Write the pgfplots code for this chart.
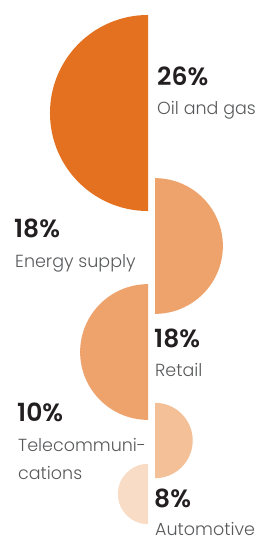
\documentclass[border=0pt]{standalone}
\usepackage{fontspec}
\setmainfont{Poppins}[UprightFont={* Light}, BoldFont={* SemiBold}]
\usepackage{pgfplots}
\pgfplotsset{compat=1.18}
\definecolor{c1}{HTML}{E4711F}
\definecolor{c2}{HTML}{EEA26C}
\definecolor{c3}{HTML}{F4C097}
\definecolor{c4}{HTML}{F9DCC5}
\definecolor{pctcol}{HTML}{231F20}
\definecolor{labcol}{HTML}{58595B}
\tikzset{
  pctnode/.style={font=\fontsize{25}{27}\selectfont\bfseries, text=pctcol, anchor=base west, inner sep=0pt},
  labnode/.style={font=\fontsize{17.5}{19}\selectfont, text=labcol, anchor=base west, inner sep=0pt},
}
\pgfdeclareplotmark{halfL}{%
  \pgfpathmoveto{\pgfpoint{0pt}{\pgfplotmarksize}}%
  \pgfpatharc{90}{270}{\pgfplotmarksize}%
  \pgfpathclose\pgfusepathqfill}
\pgfdeclareplotmark{halfR}{%
  \pgfpathmoveto{\pgfpoint{0pt}{\pgfplotmarksize}}%
  \pgfpatharc{90}{-90}{\pgfplotmarksize}%
  \pgfpathclose\pgfusepathqfill}
\begin{document}
\begin{tikzpicture}
\begin{axis}[
  width=263pt, height=536pt, scale only axis,
  xmin=0, xmax=263, ymin=0, ymax=536, y dir=reverse,
  hide axis, clip=false,
]
% radius (pt) = share (%) * 3.77
\addplot[only marks, mark=halfL, mark size={26*3.77}, color=c1] coordinates {(148,113)};
\addplot[only marks, mark=halfR, mark size={18*3.77}, color=c2] coordinates {(155,246)};
\addplot[only marks, mark=halfL, mark size={18*3.77}, color=c2] coordinates {(148,352)};
\addplot[only marks, mark=halfR, mark size={10*3.77}, color=c3] coordinates {(155,440.5)};
\addplot[only marks, mark=halfL, mark size={8*3.77}, color=c4] coordinates {(148,494)};

\node[pctnode] at (axis cs:157,85) {26\%};
\node[labnode] at (axis cs:157,114) {Oil and gas};
\node[pctnode] at (axis cs:14,237) {18\%};
\node[labnode] at (axis cs:15,267) {Energy supply};
\node[pctnode] at (axis cs:154,347) {18\%};
\node[labnode] at (axis cs:155,376) {Retail};
\node[pctnode] at (axis cs:17,421) {10\%};
\node[labnode] at (axis cs:18,451) {Telecommuni-};
\node[labnode] at (axis cs:18,479) {cations};
\node[pctnode] at (axis cs:154,507) {8\%};
\node[labnode] at (axis cs:155,535) {Automotive};
\end{axis}
\pgfresetboundingbox
\useasboundingbox (current axis.south west) rectangle (current axis.north east);
\end{tikzpicture}
\end{document}
